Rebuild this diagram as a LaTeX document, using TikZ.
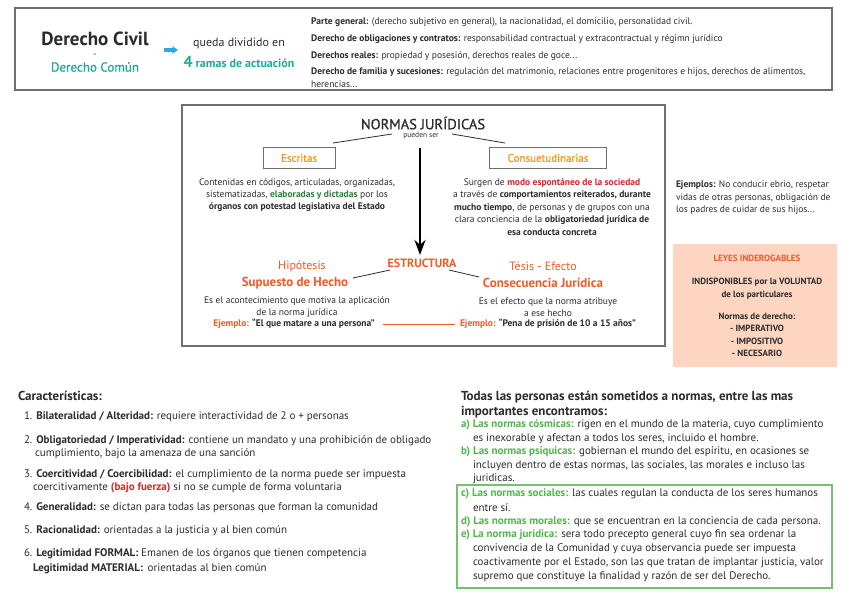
\documentclass[tikz,border=0pt]{standalone}
\usepackage{fontspec}
\setmainfont{PT Sans}
\newfontfamily\medfont[FakeBold=0.9]{PT Sans}
\usetikzlibrary{arrows.meta}
\definecolor{txt}{HTML}{2B2B2B}
\definecolor{teal}{HTML}{1FA89B}
\definecolor{ablue}{HTML}{29AAE1}
\definecolor{orng}{HTML}{F7941D}
\definecolor{ored}{HTML}{F15A29}
\definecolor{rred}{HTML}{D7262A}
\definecolor{dgreen}{HTML}{2E7D3A}
\definecolor{lgreen}{HTML}{4DB848}
\definecolor{gbox}{HTML}{72C36E}
\definecolor{peach}{HTML}{FDD5C0}
\definecolor{bord}{HTML}{6D6E70}
\newcommand\fsz[2]{\fontsize{#1}{#2}\selectfont}
\begin{document}
\begin{tikzpicture}[x=1pt,y=-1pt,
  every node/.style={inner sep=0pt, outer sep=0pt, text=txt},
  frame/.style={draw=bord, line width=1.1pt},
  small/.style={font=\fsz{9.5}{12.4}},
  body/.style={font=\fsz{11}{13.6}, anchor=west},
  lbox/.style={draw=bord, line width=0.8pt, minimum width=#1, minimum height=21pt, font=\medfont\fsz{11}{13}, text=orng},
  link/.style={draw=txt, line width=0.8pt}]
\useasboundingbox (0,0) rectangle (848,600);
% ---------- top box
\draw[frame] (15,8) rectangle (832,90);
\node[font=\fsz{19}{22}\bfseries] (dc) at (95,39) {Derecho Civil};
\node[font=\fsz{6}{7}, text=bord] (eq) at (95,55) {=};
\node[font=\medfont\fsz{13}{15}, text=teal] (dcom) at (95,67) {Derecho Común};
\coordinate (ba1) at (164,50);
\coordinate (ba2) at (178,50);
\draw[ablue, line width=3.5pt, -{Stealth[length=6pt,width=8pt]}] (ba1) -- (ba2);
\node[font=\fsz{12}{14}] (qd) at (239,43) {queda dividido en};
\node[font=\fsz{12}{14}\bfseries, text=teal] (ramas) at (239,62) {{\fsz{16}{18}4} ramas de actuación};
\begin{scope}[every node/.style={inner sep=0pt, text=txt, anchor=west, font=\fsz{9.5}{11}}]
\node (r1) at (311,22) {\textbf{Parte general:} (derecho subjetivo en general), la nacionalidad, el domicilio, personalidad civil.};
\node (r2) at (311,39) {\textbf{Derecho de obligaciones y contratos:} responsabilidad contractual y extracontractual y régimn jurídico};
\node (r3) at (311,56) {\textbf{Derechos reales:} propiedad y posesión, derechos reales de goce...};
\node (r4) at (311,72) {\textbf{Derecho de familia y sucesiones:} regulación del matrimonio, relaciones entre progenitores e hijos, derechos de alimentos,};
\node (r5) at (311,84) {herencias...};
\end{scope}
% ---------- middle box
\draw[frame, line width=1.4pt] (182,105) rectangle (665,346);
\node[font=\medfont\fsz{14.5}{16}] (nj) at (423,123) {NORMAS JURÍDICAS};
\node[font=\fsz{7.5}{9}] (ps) at (421,136) {pueden ser};
\coordinate (l1a) at (392,134); \coordinate (l1b) at (333,143);
\coordinate (l2a) at (452,134); \coordinate (l2b) at (505,143);
\draw[link] (l1a) -- (l1b);
\draw[link] (l2a) -- (l2b);
\node[lbox=72pt] (esc) at (299,158) {Escritas};
\node[lbox=117pt] (cons) at (548,158) {Consuetudinarias};
\node[small, align=center] (escd) at (297,195) {Contenidas en códigos, articuladas, organizadas,\\ sistematizadas, \textbf{\color{dgreen}elaboradas y dictadas} por los\\ \textbf{órganos con potestad legislativa del Estado}};
\node[small, align=center] (consd) at (552,207) {Surgen de \textbf{\color{rred}modo espontáneo de la sociedad}\\ a través de \textbf{comportamientos reiterados, durante}\\ \textbf{mucho tiempo}, de personas y de grupos con una\\ clara conciencia de la \textbf{obligatoriedad jurídica de}\\ \textbf{esa conducta concreta}};
\coordinate (ar1) at (420,148);
\node[font=\fsz{12}{14}\bfseries, text=ored] (est) at (422,263) {ESTRUCTURA};
\draw[line width=2.6pt, -{Stealth[length=15pt,width=11pt]}] (ar1) -- (420,255);
\node[font=\fsz{12}{14}, text=ored] (hip) at (302,266) {Hipótesis};
\node[font=\fsz{13}{15}\bfseries, text=ored] (sup) at (295,283) {Supuesto de Hecho};
\node[font=\fsz{12}{14}, text=ored] (tes) at (543,266) {Tésis - Efecto};
\node[font=\fsz{13}{15}\bfseries, text=ored] (cj) at (543,283) {Consecuencia Jurídica};
\coordinate (e1a) at (390,270); \coordinate (e1b) at (353,278);
\coordinate (e2a) at (449,270); \coordinate (e2b) at (479,277);
\draw[link] (e1a) -- (e1b);
\draw[link] (e2a) -- (e2b);
\node[small, align=center] (hipd) at (297,307) {Es el acontecimiento que motiva la aplicación\\ de la norma jurídica};
\node[small, align=center] (tesd) at (548,307) {Es el efecto que la norma atribuye\\ a ese hecho};
\node[font=\fsz{9.5}{11}\bfseries] (ej1) at (294,324) {{\color{ored}Ejemplo:} “El que matare a una persona”};
\node[font=\fsz{9.5}{11}\bfseries] (ej2) at (548,324) {{\color{ored}Ejemplo:} “Pena de prisión de 10 a 15 años”};
\draw[ored, line width=0.9pt] ([xshift=8pt]ej1.east) -- ([xshift=-5pt]ej2.west);
% ---------- right column
\node[small, anchor=north west, align=left] (ejs) at (676,181) {\textbf{Ejemplos:} No conducir ebrio, respetar\\ vidas de otras personas, obligación de\\ los padres de cuidar de sus hijos...};
\fill[peach] (673,244) rectangle (837,367);
\node[font=\fsz{9}{11}\bfseries, text=ored] (li) at (757,258) {LEYES INDEROGABLES};
\node[font=\fsz{9}{13}\bfseries, align=center] (ind) at (757,289) {INDISPONIBLES por la VOLUNTAD\\ de los particulares};
\node[font=\fsz{9}{12.3}\bfseries, align=center] (nd) at (757,335) {Normas de derecho:\\ - IMPERATIVO\\ - IMPOSITIVO\\ - NECESARIO};
% ---------- bottom left
\node[font=\fsz{13}{15}\bfseries, anchor=west] (car) at (18,396) {Características:};
\node[body] (c1) at (24,417) {1. \textbf{Bilateralidad / Alteridad:} requiere interactividad de 2 o + personas};
\node[body] (c2) at (24,441) {2. \textbf{Obligatoriedad / Imperatividad:} contiene un mandato y una prohibición de obligado};
\node[body] (c2b) at (35,454) {cumplimiento, bajo la amenaza de una sanción};
\node[body] (c3) at (24,475) {3. \textbf{Coercitividad / Coercibilidad:} el cumplimiento de la norma puede ser impuesta};
\node[body] (c3b) at (33,488) {coercitivamente \textbf{\color{rred}(bajo fuerza)} si no se cumple de forma voluntaria};
\node[body] (c4) at (24,508) {4. \textbf{Generalidad:} se dictan para todas las personas que forman la comunidad};
\node[body] (c5) at (24,531) {5. \textbf{Racionalidad:} orientadas a la justicia y al bien común};
\node[body] (c6) at (24,554) {6. \textbf{Legitimidad FORMAL:} Emanen de los órganos que tienen competencia};
\node[body] (c6b) at (33,569) {\textbf{Legitimidad MATERIAL:}\, orientadas al bien común};
% ---------- bottom right
\draw[gbox, line width=1.1pt] (457,485) rectangle (832,588);
\node[font=\fsz{13}{15}\bfseries, anchor=west] (tt1) at (461,397) {Todas las personas están sometidos a normas, entre las mas};
\node[font=\fsz{13}{15}\bfseries, anchor=west] (tt2) at (461,412) {importantes encontramos:};
\node[body] (a1) at (461,425) {\textbf{\color{lgreen}a) Las normas cósmicas:} rigen en el mundo de la materia, cuyo cumplimiento};
\node[body] (a2) at (473,439) {es inexorable y afectan a todos los seres, incluido el hombre.};
\node[body] (b1) at (461,452) {\textbf{\color{lgreen}b) Las normas psíquicas:} gobiernan el mundo del espíritu, en ocasiones se};
\node[body] (b2) at (473,466) {incluyen dentro de estas normas, las sociales, las morales e incluso las};
\node[body] (b3) at (473,479) {juridicas.};
\node[body] (cc1) at (461,494) {\textbf{\color{lgreen}c) Las normas sociales:} las cuales regulan la conducta de los seres humanos};
\node[body] (cc2) at (473,508) {entre sí.};
\node[body] (d1) at (461,522) {\textbf{\color{lgreen}d) Las normas morales:} que se encuentran en la conciencia de cada persona.};
\node[body] (ee1) at (461,535) {\textbf{\color{lgreen}e) La norma juridica:} sera todo precepto general cuyo fin sea ordenar la};
\node[body] (ee2) at (473,549) {convivencia de la Comunidad y cuya observancia puede ser impuesta};
\node[body] (ee3) at (473,563) {coactivamente por el Estado, son las que tratan de implantar justicia, valor};
\node[body] (ee4) at (473,577) {supremo que constituye la finalidad y razón de ser del Derecho.};
\end{tikzpicture}
\end{document}
